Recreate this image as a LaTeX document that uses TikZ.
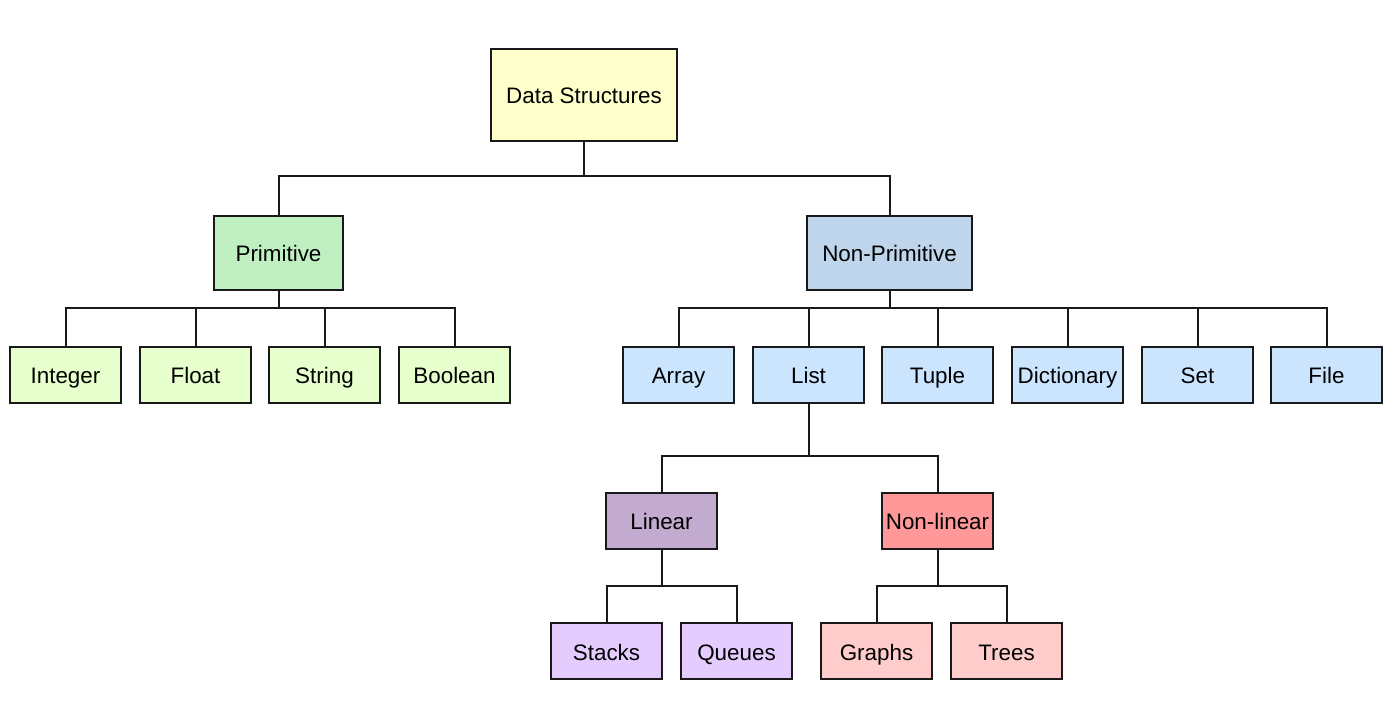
\documentclass[tikz,border=0pt]{standalone}
\usepackage{fontspec}
\setmainfont{Liberation Sans}
\definecolor{dsfill}{HTML}{FFFFCC}
\definecolor{primfill}{HTML}{C0F0C1}
\definecolor{primleaf}{HTML}{E6FFCC}
\definecolor{nonprimfill}{HTML}{BED5EB}
\definecolor{nonprimleaf}{HTML}{CCE5FF}
\definecolor{linfill}{HTML}{C3ABD0}
\definecolor{linleaf}{HTML}{E5CCFF}
\definecolor{nlinfill}{HTML}{FF9999}
\definecolor{nlinleaf}{HTML}{FFCCCC}
\tikzset{
  box/.style={draw=black!90, line width=1pt, rectangle, inner sep=0pt,
    text height=11.2pt, text depth=2.2pt,
    font=\fontsize{11.2}{13}\selectfont},
  leaf/.style={box, minimum width=55.5pt, minimum height=28pt},
  wire/.style={line width=1pt, black!90}
}
\begin{document}
\begin{tikzpicture}[x=0.5pt, y=-0.5pt]
\useasboundingbox (0,0) rectangle (1400,704);

\node[box, fill=dsfill, minimum width=93pt, minimum height=46pt] (ds) at (584, 95) {Data Structures};
\node[box, fill=primfill, minimum width=64.5pt, minimum height=37pt] (prim) at (278.5, 253) {Primitive};
\node[box, fill=nonprimfill, minimum width=82.5pt, minimum height=37pt] (nprim) at (889.5, 253) {Non-Primitive};

\node[leaf, fill=primleaf] (int)  at (65.5, 375)  {Integer};
\node[leaf, fill=primleaf] (flt)  at (195.5, 375) {Float};
\node[leaf, fill=primleaf] (str)  at (324.5, 375) {String};
\node[leaf, fill=primleaf] (bool) at (454.5, 375) {Boolean};

\node[leaf, fill=nonprimleaf] (arr)  at (678.5, 375)  {Array};
\node[leaf, fill=nonprimleaf] (lst)  at (808.5, 375)  {List};
\node[leaf, fill=nonprimleaf] (tup)  at (937.5, 375)  {Tuple};
\node[leaf, fill=nonprimleaf] (dict) at (1067.5, 375) {Dictionary};
\node[leaf, fill=nonprimleaf] (set)  at (1197.5, 375) {Set};
\node[leaf, fill=nonprimleaf] (file) at (1326.5, 375) {File};

\node[leaf, fill=linfill]  (lin)  at (661.5, 521) {Linear};
\node[leaf, fill=nlinfill] (nlin) at (937.5, 521) {Non-linear};

\node[leaf, fill=linleaf]  (stk) at (606.5, 651)  {Stacks};
\node[leaf, fill=linleaf]  (que) at (736.5, 651)  {Queues};
\node[leaf, fill=nlinleaf] (gra) at (876.5, 651)  {Graphs};
\node[leaf, fill=nlinleaf] (tre) at (1006.5, 651) {Trees};

% bus lines
\coordinate (bds)   at (584, 176);
\coordinate (bprim) at (278.5, 308);
\coordinate (bnp)   at (889.5, 308);
\coordinate (blst)  at (808.5, 456);
\coordinate (blin)  at (661.5, 586);
\coordinate (bnlin) at (937.5, 586);

\draw[wire] (ds.south) -- (bds) -| (prim.north);
\draw[wire] (bds) -| (nprim.north);

\draw[wire] (prim.south) -- (bprim) -| (int.north);
\draw[wire] (bprim) -| (flt.north);
\draw[wire] (bprim) -| (str.north);
\draw[wire] (bprim) -| (bool.north);

\draw[wire] (nprim.south) -- (bnp) -| (arr.north);
\draw[wire] (bnp) -| (lst.north);
\draw[wire] (bnp) -| (tup.north);
\draw[wire] (bnp) -| (dict.north);
\draw[wire] (bnp) -| (set.north);
\draw[wire] (bnp) -| (file.north);

\draw[wire] (lst.south) -- (blst) -| (lin.north);
\draw[wire] (blst) -| (nlin.north);

\draw[wire] (lin.south) -- (blin) -| (stk.north);
\draw[wire] (blin) -| (que.north);
\draw[wire] (nlin.south) -- (bnlin) -| (gra.north);
\draw[wire] (bnlin) -| (tre.north);
\end{tikzpicture}
\end{document}
